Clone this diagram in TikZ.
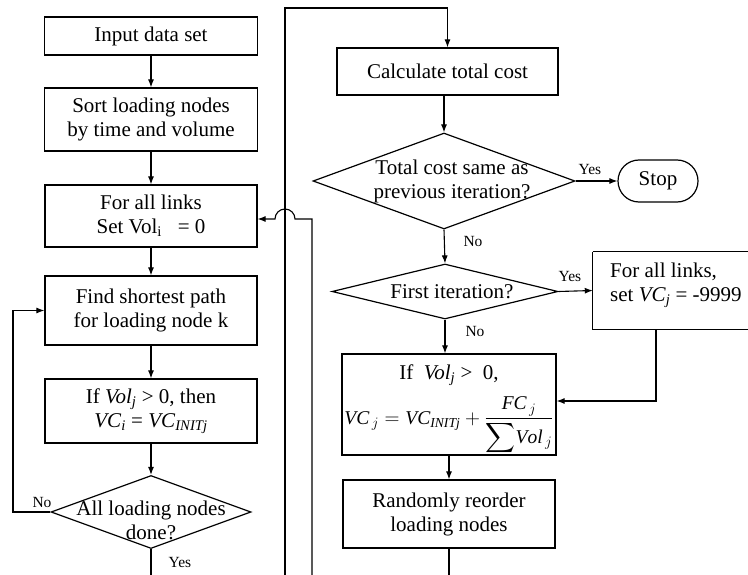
\documentclass[tikz,border=0pt]{standalone}
\usepackage{amsmath}
\usepackage{fontspec}
\setmainfont{Liberation Serif}
\usetikzlibrary{shapes.geometric,arrows.meta}
\begin{document}
\begin{tikzpicture}[x=1pt,y=-1pt,
 box/.style={draw,line width=1.2pt,rectangle,inner sep=0pt,align=center,font=\fontsize{21}{24}\selectfont},
 dia/.style={draw,line width=1.2pt,diamond,inner sep=0pt},
 txt/.style={align=center,font=\fontsize{21}{24}\selectfont,inner sep=0pt},
 lbl/.style={font=\fontsize{15.5}{18}\selectfont,inner sep=0pt},
 arr/.style={line width=1.1pt,-{Latex[length=8pt,width=6pt]}},
 ln/.style={line width=1.1pt}]
\useasboundingbox (0,0) rectangle (748,575);
\clip (0,0) rectangle (748,575);
% left column
\node[box,minimum width=213,minimum height=38] (inp) at (151,36) {Input data set};
\node[box,minimum width=213,minimum height=63] (sort) at (151,119.5) {Sort loading nodes\\by time and volume};
\node[box,minimum width=212,minimum height=62] (forall) at (151,216) {For all links\\Set Vol\textsubscript{i}\ \ \ = 0};
\node[box,minimum width=212,minimum height=69] (find) at (151,310.5) {Find shortest path\\for loading node k};
\node[box,minimum width=212,minimum height=64] (ifvol) at (151,411) {If \textit{Vol}\textsubscript{\textit{j}} > 0, then\\\textit{VC}\textsubscript{\textit{i}} = \textit{VC}\textsubscript{\textit{INITj}}};
\node[dia,minimum width=200,minimum height=73] (done) at (151,512) {};
\node[txt] at (151,520) {All loading nodes\\done?};
% right column
\node[box,minimum width=221,minimum height=47] (calc) at (447.5,71.5) {Calculate total cost};
\node[dia,minimum width=262,minimum height=96] (same) at (444,181) {};
\node[txt] at (452,181) {Total cost same as\\previous iteration?};
\node[box,rounded corners=21pt,minimum width=80,minimum height=42] (stop) at (658,181) {Stop};
\node[dia,minimum width=226,minimum height=55] (first) at (445,291.5) {};
\node[txt] at (452,292) {First iteration?};
\node[inner sep=0pt,minimum width=126,minimum height=77] (vc) at (656,290.5) {};
\draw[ln,line width=1.2pt] (vc.north west) -- ++(200,0) (vc.north west) -- (vc.south west) -- ++(200,0);
\node[txt,anchor=west,align=left] at (610,285) {For all links,\\set \textit{VC}\textsubscript{\textit{j}} = -9999};
\node[box,minimum width=214,minimum height=101] (form) at (449,404.5) {};
\node[txt] at (449,375) {If\ \ \textit{Vol}\textsubscript{\textit{j}} >\ \ 0,};
\node[txt,font=\fontsize{19.5}{22}\selectfont] at (449,426) {$\mathit{VC}_{\,j} = \mathit{VC}_{\mathit{INITj}} + \dfrac{\mathit{FC}_{\,j}}{\displaystyle\sum\! \mathit{Vol}_{\,j}}$};
\node[box,minimum width=212,minimum height=68] (rand) at (449,514) {Randomly reorder\\loading nodes};
% free ends
\coordinate (endL) at (151,580);
\coordinate (loopbot) at (285,580);
\coordinate (loopTop) at (285,8);
\coordinate (retbot) at (312,580);
\coordinate (endR) at (449,580);
% connectors
\draw[arr] (inp) -- (sort);
\draw[arr] (sort) -- (forall);
\draw[arr] (forall) -- (find);
\draw[arr] (find) -- (ifvol);
\draw[arr] (ifvol) -- (done);
\draw[arr] (done.west) -- (13,512) |- (find.west);
\draw[ln] (done.south) -- (endL);
\draw[arr] (loopbot) -- (loopTop) -| (calc.north);
\draw[arr] (retbot) -- (312,219) -- (295,219) arc[start angle=0,end angle=180,radius=10pt] -- (forall.east |- 0,219);
\draw[arr] (calc.south -| same.north) -- (same.north);
\draw[arr] (same.east) -- (stop.west);
\draw[arr] (same.south) -- (first.north);
\draw[arr] (first.east) -- (vc.west);
\draw[arr] (first.south) -- (first.south |- form.north);
\draw[arr] (vc.south) |- ([yshift=3.5pt]form.east);
\draw[arr] (form) -- (rand);
\draw[ln] (rand.south) -- (endR);
% labels
\node[lbl] at (590,170) {Yes};
\node[lbl] at (473,242) {No};
\node[lbl] at (570,277) {Yes};
\node[lbl] at (475,332) {No};
\node[lbl] at (42,502) {No};
\node[lbl] at (180,562) {Yes};
\end{tikzpicture}
\end{document}
